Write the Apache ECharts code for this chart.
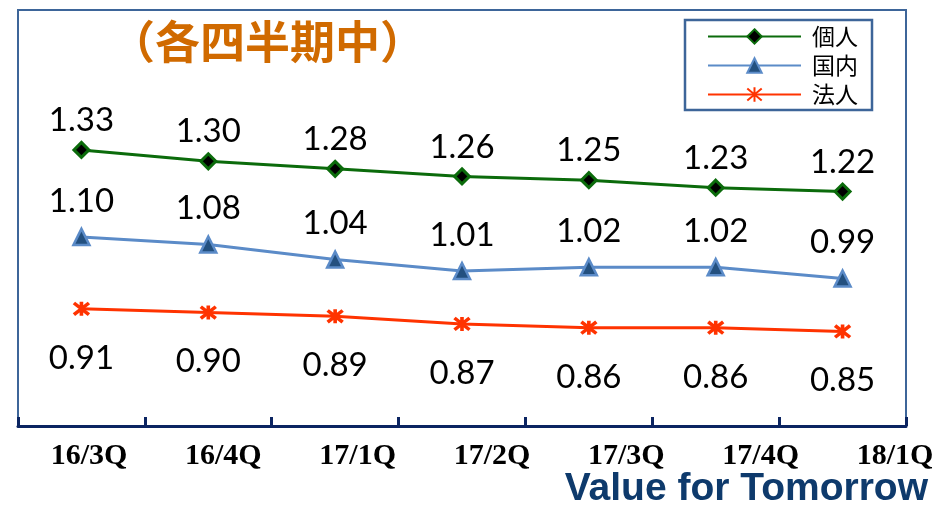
<!DOCTYPE html>
<html>
<head>
<meta charset="utf-8">
<script src="https://cdn.jsdelivr.net/npm/echarts@6/dist/echarts.min.js"></script>
<style>
  html, body { margin: 0; padding: 0; background: #fff; }
  #main { width: 938px; height: 508px; }
</style>
</head>
<body>
<div id="main"></div>
<script>
// quarters along the bottom
var quarters = ['16/3Q', '16/4Q', '17/1Q', '17/2Q', '17/3Q', '17/4Q', '18/1Q'];
// series
var kojin = [1.33, 1.30, 1.28, 1.26, 1.25, 1.23, 1.22];
var kokunai = [1.10, 1.08, 1.04, 1.01, 1.02, 1.02, 0.99];
var hojin = [0.91, 0.90, 0.89, 0.87, 0.86, 0.86, 0.85];
var names = ['個人', '国内', '法人'];

var frameColor = '#3D6599';
var axisColor = '#0B2461';
var starPath = 'path://M0,0L10,10M10,0L0,10M5,-1L5,11';

function lbl(pos, dist) {
  return {
    show: true,
    position: pos,
    distance: dist,
    fontFamily: 'Lato',
    fontSize: 33,
    color: '#000',
    formatter: function (p) { return p.value.toFixed(2); }
  };
}

var myChart = echarts.init(document.getElementById('main'));
var option = {
  animation: false,
  backgroundColor: '#fff',
  grid: [
    { left: 18, top: 10, width: 888, height: 416, show: true, borderColor: frameColor, borderWidth: 2, containLabel: false },
    { left: 89, top: 10, width: 806, height: 416, containLabel: false }
  ],
  xAxis: [
    {
      type: 'category', gridIndex: 0, data: quarters, boundaryGap: true,
      axisLine: { lineStyle: { color: axisColor, width: 3 } },
      axisTick: { show: true, inside: true, length: 9, lineStyle: { color: axisColor, width: 3 } },
      axisLabel: { show: false }
    },
    {
      // labels only, spread a little wider than the plot like the original
      type: 'category', gridIndex: 1, data: quarters, boundaryGap: false,
      axisLine: { show: false }, axisTick: { show: false },
      axisLabel: {
        interval: 0, margin: 15,
        fontFamily: 'Liberation Serif', fontWeight: 'bold', fontSize: 30, color: '#000'
      }
    }
  ],
  yAxis: [
    { type: 'value', gridIndex: 0, min: 0.6, max: 1.7, show: false },
    { type: 'value', gridIndex: 1, min: 0.6, max: 1.7, show: false }
  ],
  legend: {
    orient: 'vertical',
    left: 685, top: 20,
    padding: [5, 14, 4, 22],
    itemWidth: 93, itemHeight: 18, itemGap: 6,
    borderColor: frameColor, borderWidth: 2.5,
    formatter: '{t|{name}}',
    textStyle: {
      color: '#000',
      rich: { t: { fontFamily: 'Noto Sans CJK JP', fontSize: 23, lineHeight: 24, color: '#000', padding: [0, 0, 0, 6] } }
    },
    data: names
  },
  graphic: [
    {
      type: 'text', left: 110, top: 19,
      style: { text: '（各四半期中）', fontFamily: 'Noto Sans CJK JP', fontWeight: 'bold', fontSize: 45, fill: '#D06A00' }
    },
    {
      type: 'text', right: 10, top: 470,
      style: { text: 'Value for Tomorrow', fontFamily: 'Liberation Sans', fontWeight: 'bold', fontSize: 39, fill: '#0E3A6C' }
    }
  ],
  series: [
    {
      name: names[0], type: 'line', data: kojin,
      symbol: 'diamond', symbolSize: 15,
      itemStyle: { color: '#000', borderColor: '#0B6B0B', borderWidth: 3 },
      lineStyle: { color: '#0B6B0B', width: 3 },
      label: lbl('top', 4)
    },
    {
      name: names[1], type: 'line', data: kokunai,
      symbol: 'triangle', symbolSize: 16,
      itemStyle: { color: '#23507F', borderColor: '#5B8BC8', borderWidth: 2.5 },
      lineStyle: { color: '#5B8BC8', width: 3 },
      label: lbl('top', 10)
    },
    {
      name: names[2], type: 'line', data: hojin,
      symbol: starPath, symbolSize: [15, 14],
      itemStyle: { color: '#FF3300', borderColor: '#FF3300', borderWidth: 3.5 },
      lineStyle: { color: '#FF3300', width: 3 },
      label: lbl('bottom', 24)
    }
  ]
};
myChart.setOption(option);
</script>
</body>
</html>
